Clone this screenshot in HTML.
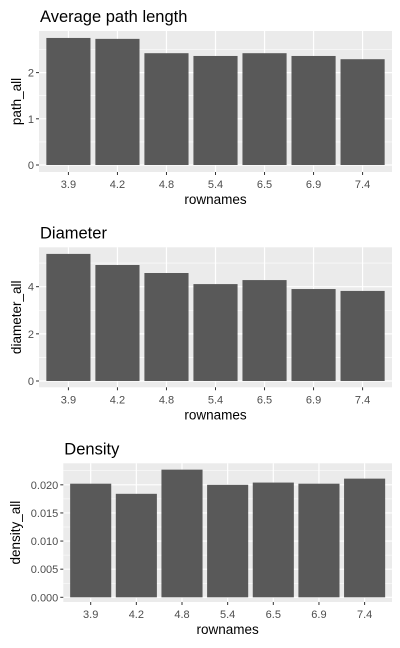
<!DOCTYPE html>
<html><head><meta charset="utf-8"><style>
html,body{margin:0;padding:0;background:#fff;}
svg{display:block;font-family:"Liberation Sans",Arial,sans-serif;}
</style></head><body>
<svg id="chart" width="400" height="648" viewBox="0 0 400 648" xmlns="http://www.w3.org/2000/svg"></svg>
<script>
const categories = ["3.9","4.2","4.8","5.4","6.5","6.9","7.4"];
const pathValues = [2.75,2.73,2.42,2.36,2.42,2.36,2.29];
const diameterValues = [5.39,4.92,4.58,4.11,4.28,3.90,3.82];
const densityValues = [0.0202,0.0184,0.0227,0.0200,0.0204,0.0202,0.0211];
const pathTicks = [0,1,2];
const diameterTicks = [0,2,4];
const densityTicks = [0,0.005,0.010,0.015,0.020];
const densityTickLabels = ["0.000","0.005","0.010","0.015","0.020"];

const NS = "http://www.w3.org/2000/svg";
const svg = document.getElementById("chart");
function mk(tag, attrs, parent){
  const e = document.createElementNS(NS, tag);
  for (const k in attrs) e.setAttribute(k, attrs[k]);
  (parent||svg).appendChild(e);
  return e;
}
function panel(cfg){
  const g = mk("g", {});
  
  
  const L=cfg.left, R=392, T=cfg.top, B=cfg.bottom, Z=cfg.zero, ppu=cfg.ppu;
  const y = v => Z - v*ppu;
  const step = (R-L)/(categories.length+0.2);
  const x = i => L + step*(0.6+i);
  const bg = mk("rect",{x:L,y:T,width:R-L,height:B-T,fill:"#ebebeb"},g);
  
  
  // minor grid
  for (let i=0;i<cfg.ticks.length;i++){
    const t=cfg.ticks[i];
    const d = cfg.ticks.length>1 ? cfg.ticks[1]-cfg.ticks[0] : 1;
    [t+d/2].forEach(m=>{ const yy=y(m); if(yy>T&&yy<B) mk("line",{x1:L,x2:R,y1:yy,y2:yy,stroke:"#fff","stroke-width":0.6},g); });
    if(i===0){ const yy=y(t-d/2); if(yy>T&&yy<B) mk("line",{x1:L,x2:R,y1:yy,y2:yy,stroke:"#fff","stroke-width":0.6},g); }
  }
  cfg.ticks.forEach((t,i)=>{
    const yy=y(t);
    mk("line",{x1:L,x2:R,y1:yy,y2:yy,stroke:"#fff","stroke-width":1.2},g);
    mk("line",{x1:L-3,x2:L,y1:yy,y2:yy,stroke:"#333","stroke-width":1},g);
    const tx = mk("text",{x:L-5,y:yy+4,"text-anchor":"end","font-size":"11",fill:"#4d4d4d"},g);
    tx.textContent = cfg.labels ? cfg.labels[i] : String(t);
    
    
  });
  categories.forEach((c,i)=>{
    const xx=x(i);
    mk("line",{x1:xx,x2:xx,y1:T,y2:B,stroke:"#fff","stroke-width":1.2},g);
  });
  cfg.values.forEach((v,i)=>{
    const w=step*0.9;
    const r = mk("rect",{x:x(i)-w/2,y:y(v),width:w,height:Z-y(v),fill:"#595959"},g);
    
    
  });
  categories.forEach((c,i)=>{
    const xx=x(i);
    mk("line",{x1:xx,x2:xx,y1:B,y2:B+3,stroke:"#333","stroke-width":1},g);
    const tx = mk("text",{x:xx,y:B+16,"text-anchor":"middle","font-size":"11",fill:"#4d4d4d"},g);
    tx.textContent=c;
    
    
  });
  const xt = mk("text",{x:(L+R)/2,y:B+32,"text-anchor":"middle","font-size":"13.5",fill:"#000"},g);
  xt.textContent="rownames";
  
  
  const cy=(T+B)/2;
  const yt = mk("text",{x:cfg.ytx,y:cy,"text-anchor":"middle","font-size":"13.5",fill:"#000",transform:`rotate(-90 ${cfg.ytx} ${cy})`},g);
  yt.textContent=cfg.ytitle;
  
  
  const tt = mk("text",{x:L+1,y:T-9,"font-size":"16.5",fill:"#000"},g);
  tt.textContent=cfg.title;
  
  
}
panel({name:"path",title:"Average path length",ytitle:"path_all",values:pathValues,ticks:pathTicks,left:39,top:31,bottom:172,zero:165,ppu:46.2,ytx:21});
panel({name:"diameter",title:"Diameter",ytitle:"diameter_all",values:diameterValues,ticks:diameterTicks,left:39,top:247.3,bottom:387.3,zero:381,ppu:23.58,ytx:21});
panel({name:"density",title:"Density",ytitle:"density_all",values:densityValues,ticks:densityTicks,labels:densityTickLabels,left:63.3,top:463.3,bottom:602,zero:597.3,ppu:5624,ytx:20});
</script>
</body></html>
